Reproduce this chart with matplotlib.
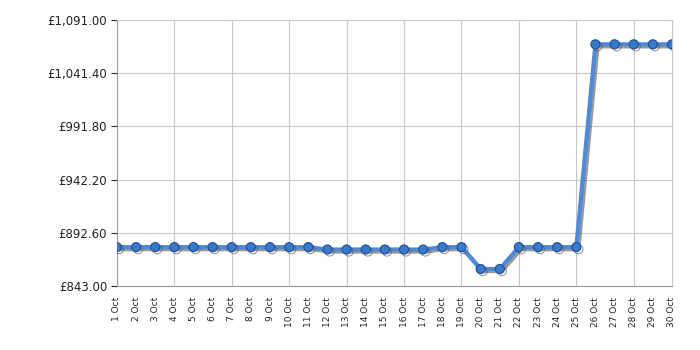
import matplotlib
matplotlib.use("Agg")
import matplotlib.pyplot as plt
import matplotlib.patheffects as pe

days = list(range(1, 31))
labels = [str(d) + " Oct" for d in days]
prices = [879.2] * 11 + [877.0] * 6 + [879.2, 879.2, 858.8, 858.8,
          879.2, 879.2, 879.2, 879.2] + [1068.3] * 5
yticks = [843.00, 892.60, 942.20, 991.80, 1041.40, 1091.00]

fig = plt.figure(figsize=(7, 3.5), dpi=100)
ax = fig.add_axes([0.167, 0.183, 0.793, 0.76])

shadow = [pe.SimpleLineShadow(offset=(1.5, -1.5), shadow_color="#555555", alpha=0.6), pe.Normal()]
ax.plot(days, prices, color="#4f8ad8", lw=3, zorder=3,
        marker="o", markersize=6.5, markerfacecolor="#3a78cc",
        markeredgecolor="#1f4f94", markeredgewidth=0.8,
        path_effects=shadow)

ax.set_xlim(1, 30)
ax.set_ylim(843, 1091)
ax.set_yticks(yticks)
ax.set_yticklabels(["\u00a3{:,.2f}".format(v) for v in yticks], fontsize=8.5, color="#222222")
ax.set_xticks(days)
ax.set_xticklabels(labels, rotation=90, fontsize=6.5, color="#222222")
ax.set_xticks(days[::3], minor=True)
ax.tick_params(axis="x", which="major", length=0, pad=8)
ax.tick_params(axis="x", which="minor", length=4, color="#222222")
ax.tick_params(axis="y", length=4, color="#222222", pad=3)

for d in days[::3]:
    ax.axvline(d, color="#c8c8c8", lw=0.8, zorder=0)
for v in yticks:
    ax.axhline(v, color="#c8c8c8", lw=0.8, zorder=0)

for s in ["top", "right"]:
    ax.spines[s].set_color("#c8c8c8")
for s in ["left", "bottom"]:
    ax.spines[s].set_color("#999999")

fig.savefig("out.png", dpi=100)
